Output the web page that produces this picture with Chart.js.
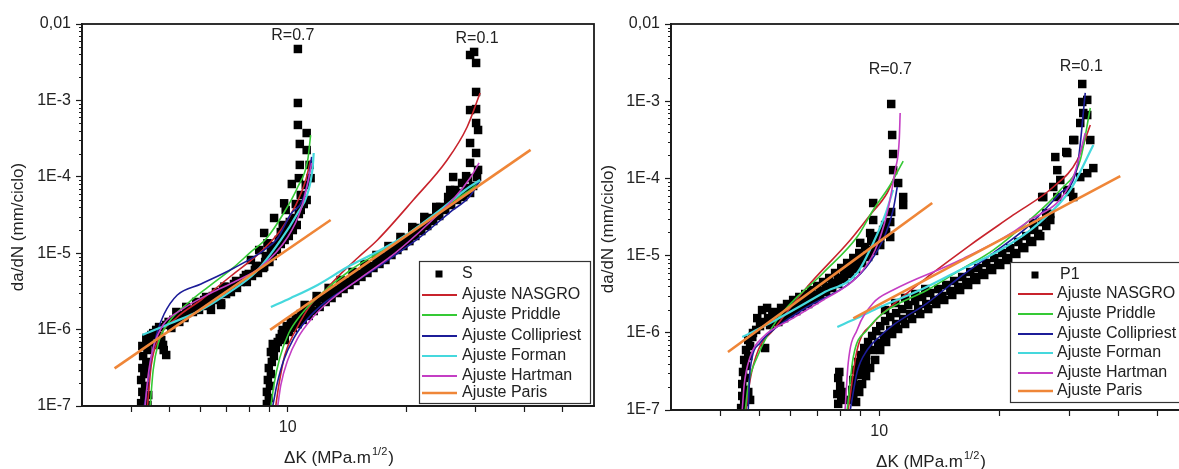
<!DOCTYPE html>
<html>
<head>
<meta charset="utf-8">
<title>da/dN x ΔK</title>
<script src="https://cdn.jsdelivr.net/npm/chart.js@4.4.1/dist/chart.umd.min.js"></script>
<style>
  html, body { margin: 0; padding: 0; background: #fff; }
  #wrap { position: relative; width: 1179px; height: 469px; overflow: hidden; background: #fff; }
  #c1 { position: absolute; left: 0; top: 0; }
  #c2 { position: absolute; left: 590px; top: 0; }
</style>
</head>
<body>
<div id="wrap">
  <canvas id="c1" width="600" height="469"></canvas>
  <canvas id="c2" width="610" height="469"></canvas>
</div>
<script>
// axis ticks / labels
const xTickVals = [4, 5, 6, 7, 8, 9, 10, 20, 30, 40, 50];
const yMajor = [1e-7, 1e-6, 1e-5, 1e-4, 1e-3, 1e-2];
const yLabels = ['1E-7', '1E-6', '1E-5', '1E-4', '1E-3', '0,01'];

// ---- panel S : measured points [dK, da/dN]
const sR07 = [[4.24,1.09e-7],[4.32,1.27e-7],[4.27,1.53e-7],[4.34,1.83e-7],[4.24,2.19e-7],[4.32,2.62e-7],[4.27,3.14e-7],[4.37,3.77e-7],[4.29,4.51e-7],[4.40,5.41e-7],[4.27,6.1e-7],[4.45,6.88e-7],[4.37,7.76e-7],[4.50,8.5e-7],[4.42,1.39e-7],[4.40,1.03e-7],[4.34,2.96e-7],[4.55,9.0e-7],[4.63,9.9e-7],[4.71,1.08e-6],[4.77,7.3e-7],[4.84,5.4e-7],[4.91,4.65e-7],[4.82,6.3e-7],[4.71,8.2e-7],[4.63,6.3e-7],[4.91,1.15e-6],[4.98,1.26e-6],[5.06,1.05e-6],[5.12,1.34e-6],[5.21,1.42e-6],[5.30,1.26e-6],[5.36,1.55e-6],[5.46,1.42e-6],[5.55,1.65e-6],[5.62,1.81e-6],[5.74,1.7e-6],[5.85,1.92e-6],[5.95,1.81e-6],[6.02,2.1e-6],[6.13,2.44e-6],[6.24,2.04e-6],[6.38,2.3e-6],[6.45,2.75e-6],[6.57,2.44e-6],[6.69,2.92e-6],[6.77,2.1e-6],[6.85,3.3e-6],[6.97,2.92e-6],[7.09,3.51e-6],[7.17,3.1e-6],[7.30,3.95e-6],[7.43,3.51e-6],[7.60,4.2e-6],[7.73,4.73e-6],[7.87,4.2e-6],[7.96,5.35e-6],[8.11,5.03e-6],[8.25,6.03e-6],[8.40,5.51e-6],[8.50,6.8e-6],[8.66,6.4e-6],[8.76,7.67e-6],[8.87,8.65e-6],[8.98,7.67e-6],[9.06,1.04e-5],[9.16,9.2e-6],[9.27,1.24e-5],[9.38,1.1e-5],[9.49,1.49e-5],[9.60,1.32e-5],[9.71,1.68e-5],[9.82,1.49e-5],[9.94,1.89e-5],[10.06,1.68e-5],[10.18,2.14e-5],[10.12,2.56e-5],[10.30,2.01e-5],[10.36,2.89e-5],[10.54,2.34e-5],[10.67,3.26e-5],[10.79,3.68e-5],[10.98,4.4e-5],[10.48,4.4e-5],[9.88,3.68e-5],[9.71,2.34e-5],[10.79,5.78e-5],[11.17,4.97e-5],[11.11,7.81e-5],[11.43,9.6e-5],[10.67,9.6e-5],[11.36,1.43e-4],[10.73,1.43e-4],[11.17,2.24e-4],[10.73,2.69e-4],[11.17,3.74e-4],[10.61,4.77e-4],[10.61,9.25e-4],[10.61,4.71e-3],[8.71,1.84e-5],[9.23,2.89e-5],[8.88,1.35e-5],[8.46,1.1e-5],[8.06,8.15e-6],[8.71,6.66e-6],[6.90,3.65e-6],[6.38,1.81e-6],[5.79,1.81e-6],[5.46,1.48e-6],[6.77,2.21e-6],[10.24,8.05e-5],[9.79,4.5e-5],
  [5.21,1.7e-6],[5.52,1.98e-6],[5.85,2.3e-6],[6.20,2.67e-6],[6.57,3.1e-6],[6.97,3.61e-6],[7.39,4.33e-6],[7.83,5.18e-6],[8.30,6.8e-6],[8.80,9.2e-6],[9.16,1.2e-5],[9.60,1.89e-5],[10.06,2.27e-5]];
const sR01 = [[8.85,1.06e-7],[8.95,1.27e-7],[8.85,1.53e-7],[9.01,1.83e-7],[8.90,2.19e-7],[9.06,2.62e-7],[8.95,3.14e-7],[9.11,3.77e-7],[9.22,4.51e-7],[9.06,5.09e-7],[9.32,5.74e-7],[9.16,6.48e-7],[9.43,6.88e-7],[9.54,7.76e-7],[9.66,8.75e-7],[9.83,7.31e-7],[9.71,9.88e-7],[9.94,1.11e-6],[10.06,9.3e-7],[10.18,1.26e-6],[10.30,1.05e-6],[10.48,1.42e-6],[10.60,1.18e-6],[10.79,1.6e-6],[10.91,1.34e-6],[11.11,1.81e-6],[11.30,1.51e-6],[11.43,2.04e-6],[11.64,1.75e-6],[11.84,2.3e-6],[12.05,1.98e-6],[12.26,2.59e-6],[12.48,2.3e-6],[12.70,2.92e-6],[12.92,2.59e-6],[13.15,3.3e-6],[13.38,3.01e-6],[13.62,3.72e-6],[13.86,3.4e-6],[14.10,4.2e-6],[14.35,3.84e-6],[14.61,4.73e-6],[14.86,4.33e-6],[15.12,5.35e-6],[15.39,4.89e-6],[15.66,6.03e-6],[15.94,5.51e-6],[16.23,6.8e-6],[16.51,6.4e-6],[16.80,7.67e-6],[17.10,7.23e-6],[17.40,8.92e-6],[17.71,8.15e-6],[18.02,1.04e-5],[18.34,9.47e-6],[18.66,1.17e-5],[18.99,1.1e-5],[19.33,1.36e-5],[19.67,1.24e-5],[20.01,1.58e-5],[20.37,1.44e-5],[20.72,1.84e-5],[21.09,1.68e-5],[21.46,2.14e-5],[21.84,1.95e-5],[22.23,2.48e-5],[22.62,2.27e-5],[23.01,2.89e-5],[23.42,2.64e-5],[23.84,3.36e-5],[24.26,3.07e-5],[24.69,3.9e-5],[25.12,3.68e-5],[25.56,4.54e-5],[26.01,4.27e-5],[26.47,5.28e-5],[26.94,4.97e-5],[27.42,6.14e-5],[27.90,5.78e-5],[28.39,7.14e-5],[26.63,6.72e-5],[27.73,8.3e-5],[28.72,9.64e-5],[29.58,7.58e-5],[28.39,1.02e-4],[29.06,3.93e-3],[29.75,4.31e-3],[30.10,3.09e-3],[30.10,1.29e-3],[29.06,7.48e-4],[30.10,7.7e-4],[30.45,4.1e-4],[30.10,5.06e-4],[29.06,2.77e-4],[30.10,2.05e-4],[29.06,1.52e-4],[30.45,1.23e-4],[27.90,5.44e-5],[26.32,9.93e-5],[25.86,6.72e-5],[24.40,4.03e-5],[29.06,6.14e-5],[30.27,9.93e-5],
  [11.04,2.1e-6],[11.84,2.75e-6],[12.70,3.51e-6],[13.62,4.46e-6],[14.61,5.68e-6],[15.66,7.23e-6],[16.80,9.47e-6],[18.02,1.24e-5],[19.33,1.63e-5],[20.72,2.2e-5],[22.23,2.98e-5],[23.84,4.03e-5],[25.56,5.44e-5]];

// ---- panel S : fitted curves
const sNasgro07 = [[4.40,1e-7],[4.50,3.44e-7],[4.71,7.76e-7],[5.21,1.42e-6],[6.02,2.44e-6],[7.17,5.03e-6],[8.54,1.04e-5],[9.60,2.01e-5],[10.48,4.27e-5],[11.11,9.08e-5],[11.43,1.66e-4]];
const sPriddle07 = [[4.47,1e-7],[4.55,2.96e-7],[4.69,6.68e-7],[4.97,1.22e-6],[5.58,2.23e-6],[6.27,3.61e-6],[7.30,6.59e-6],[8.06,1.04e-5],[8.80,1.53e-5],[9.77,3.36e-5],[10.60,7.35e-5],[11.24,1.66e-4],[11.43,3.52e-4]];
const sColli07 = [[4.32,1e-7],[4.40,1.88e-7],[4.50,4.38e-7],[4.66,9.3e-7],[4.85,1.6e-6],[5.24,2.84e-6],[6.02,3.95e-6],[7.30,6.4e-6],[8.71,1.1e-5],[9.43,1.58e-5],[10.18,3.26e-5],[10.91,4.97e-5],[11.30,9.93e-5],[11.50,1.82e-4]];
const sForman07 = [[4.27,8.5e-7],[5.06,1.22e-6],[6.02,1.81e-6],[7.05,3.01e-6],[8.30,5.68e-6],[9.60,1.49e-5],[10.60,3.36e-5],[11.24,6.14e-5],[11.57,1.34e-4],[11.64,2.05e-4]];
const sHartman07 = [[4.34,1e-7],[4.42,2.55e-7],[4.55,5.74e-7],[4.82,1.15e-6],[5.36,1.81e-6],[6.38,3.01e-6],[7.39,4.33e-6],[8.54,6.59e-6],[10.0,1.63e-5],[10.79,3.68e-5],[11.24,8.3e-5],[11.50,1.52e-4]];
const sParis07 = [[3.63,3.11e-7],[12.85,2.72e-5]];
const sNasgro01 = [[9.32,1e-7],[9.49,1.88e-7],[9.83,4.65e-7],[10.48,9.88e-7],[11.43,2.1e-6],[12.48,3.3e-6],[13.38,4.89e-6],[15.04,8.65e-6],[16.90,1.49e-5],[20.84,4.97e-5],[25.41,1.66e-4],[28.56,4.49e-4],[30.81,1.25e-3]];
const sPriddle01 = [[9.06,1e-7],[9.22,1.88e-7],[9.54,4.25e-7],[10.06,9.02e-7],[10.79,1.55e-6],[11.91,2.67e-6],[14.44,6.03e-6],[17.50,1.1e-5],[21.72,2.34e-5],[25.86,4.54e-5],[29.06,6.72e-5],[30.81,8.55e-5]];
const sColli01 = [[9.16,1e-7],[9.38,1.88e-7],[9.77,4.0e-7],[10.36,7.76e-7],[11.17,1.34e-6],[12.48,2.3e-6],[14.44,3.84e-6],[17.71,7.67e-6],[21.72,1.63e-5],[25.86,3.46e-5],[29.06,5.61e-5],[30.81,9.08e-5]];
const sForman01 = [[9.06,1.98e-6],[10.18,2.59e-6],[11.91,3.84e-6],[14.18,6.59e-6],[17.20,1.1e-5],[20.49,1.89e-5],[24.40,3.68e-5],[28.23,6.72e-5],[30.81,9.08e-5]];
const sHartman01 = [[9.43,1e-7],[9.60,1.88e-7],[10.0,4.0e-7],[10.60,7.76e-7],[11.43,1.34e-6],[12.85,2.44e-6],[15.30,4.73e-6],[18.77,1.01e-5],[23.01,2.56e-5],[26.63,5.44e-5],[29.06,9.64e-5],[30.63,1.52e-4]];
const sParis01 = [[9.02,9.9e-7],[41.4,2.25e-4]];

// ---- panel P1 : measured points
const pR07 = [[4.50,1.06e-7],[4.58,1.27e-7],[4.53,1.52e-7],[4.61,1.82e-7],[4.53,2.17e-7],[4.61,2.6e-7],[4.55,3.11e-7],[4.63,3.72e-7],[4.58,4.45e-7],[4.69,5.0e-7],[4.63,5.98e-7],[4.74,6.74e-7],[4.69,8.07e-7],[4.80,8.83e-7],[4.74,1.35e-7],[4.69,1.71e-7],[4.82,9.94e-7],[4.91,1.09e-6],[5.02,1.22e-6],[5.14,1.38e-6],[5.26,1.55e-6],[5.39,1.75e-6],[4.94,1.55e-6],[5.08,1.97e-6],[5.23,2.1e-6],[5.17,6.35e-7],[5.32,1.26e-6],[5.48,1.86e-6],[5.58,1.65e-6],[5.67,2.1e-6],[5.77,1.86e-6],[5.87,2.36e-6],[5.97,2.1e-6],[6.08,2.66e-6],[6.19,2.29e-6],[6.30,2.91e-6],[6.40,2.58e-6],[6.52,3.18e-6],[6.63,2.83e-6],[6.75,3.58e-6],[6.87,3.09e-6],[6.99,4.04e-6],[7.11,3.48e-6],[7.23,4.55e-6],[7.36,3.92e-6],[7.49,5.13e-6],[7.62,4.42e-6],[7.75,5.95e-6],[7.89,5.13e-6],[8.03,6.91e-6],[8.17,6.13e-6],[8.31,8.02e-6],[8.46,7.12e-6],[8.61,9.31e-6],[8.75,8.26e-6],[8.91,1.08e-5],[9.06,9.89e-6],[9.22,1.29e-5],[9.38,1.18e-5],[9.55,1.55e-5],[9.71,1.41e-5],[9.88,1.79e-5],[10.06,1.69e-5],[10.23,2.15e-5],[10.41,2.02e-5],[9.49,1.96e-5],[9.66,2.89e-5],[9.66,4.8e-5],[10.66,2.72e-5],[10.66,1.74e-5],[10.72,3.67e-5],[11.49,4.52e-5],[11.49,5.74e-5],[11.16,8.71e-5],[10.84,1.28e-4],[10.84,2.07e-4],[10.78,3.65e-4],[10.72,9.2e-4],[10.35,2.49e-5],[8.96,1.46e-5],
  [5.58,1.38e-6],[5.77,1.55e-6],[5.97,1.75e-6],[6.19,1.91e-6],[6.40,2.16e-6],[6.63,2.36e-6],[6.87,2.66e-6],[7.11,3.0e-6],[7.36,3.38e-6],[7.62,3.8e-6],[7.89,4.29e-6],[8.17,4.98e-6],[8.46,5.78e-6],[8.75,6.7e-6],[9.06,8.02e-6],[9.38,9.6e-6],[9.71,1.15e-5],[10.06,1.37e-5]];
const pR01 = [[7.89,2.6e-7],[7.98,2.05e-7],[7.85,1.61e-7],[8.03,1.35e-7],[7.89,1.2e-7],[8.07,1.71e-7],[7.94,3.11e-7],
  [8.46,1.35e-7],[8.56,1.82e-7],[8.61,2.45e-7],[8.71,3.3e-7],[8.86,4.19e-7],[9.01,5.15e-7],[9.17,6.35e-7],[9.38,7.6e-7],[9.60,9.1e-7],[9.83,1.05e-6],[10.06,1.22e-6],[10.35,1.42e-6],[10.66,1.6e-6],[11.03,1.8e-6],[11.42,2.03e-6],[11.83,2.29e-6],[12.31,2.58e-6],[12.82,2.91e-6],[13.43,3.28e-6],[14.07,3.69e-6],[14.74,4.16e-6],[15.43,4.69e-6],[16.16,5.28e-6],[16.93,6.13e-6],[17.73,6.91e-6],[18.57,8.02e-6],[19.45,9.31e-6],[20.37,1.08e-5],[21.34,1.25e-5],[22.36,1.5e-5],[23.41,1.79e-5],[24.51,2.15e-5],[25.67,2.72e-5],[26.90,3.46e-5],
  [8.75,1.27e-7],[8.91,1.71e-7],[9.06,2.17e-7],[9.27,2.75e-7],[9.49,3.5e-7],[9.77,4.45e-7],[10.06,5.98e-7],[10.41,7.6e-7],[10.78,9.64e-7],[11.16,1.12e-6],[11.62,1.3e-6],[12.10,1.51e-6],[12.68,1.75e-6],[13.28,2.03e-6],[13.91,2.36e-6],[14.57,2.66e-6],[15.26,3.09e-6],[15.97,3.58e-6],[16.73,4.16e-6],[17.53,4.83e-6],[18.36,5.61e-6],[19.22,6.5e-6],[20.14,7.55e-6],[21.09,8.77e-6],[22.10,1.05e-5],[23.14,1.25e-5],[24.23,1.5e-5],[25.38,1.79e-5],
  [9.27,5.15e-7],[9.60,5.98e-7],[9.94,7.38e-7],[10.29,9.1e-7],[10.66,1.09e-6],[11.03,1.3e-6],[11.49,1.51e-6],[11.96,1.75e-6],[12.53,2.03e-6],[13.13,2.36e-6],[13.75,2.66e-6],[14.40,3.0e-6],[15.09,3.48e-6],[15.80,3.92e-6],[16.55,4.55e-6],[17.33,5.28e-6],[18.15,5.95e-6],[19.00,6.91e-6],[19.91,8.02e-6],[20.85,9.31e-6],[21.84,1.08e-5],[22.87,1.29e-5],[23.95,1.55e-5],[25.09,1.91e-5],[26.28,2.42e-5],
  [8.61,1.56e-7],[8.75,2.11e-7],[8.86,2.84e-7],[9.06,3.5e-7],[9.27,4.19e-7],
  [10.35,1.97e-6],[10.97,2.43e-6],[11.62,2.83e-6],[12.31,3.18e-6],[13.05,3.69e-6],
  [25.67,5.74e-5],[28.01,5.74e-5],[29.68,7.08e-5],[30.72,5.74e-5],[31.99,1.04e-4],[28.50,9.53e-5],[27.69,1.89e-4],[29.68,2.13e-4],[30.72,3.14e-4],[31.99,5.22e-4],[32.55,7.03e-4],[32.36,9.77e-4],[32.36,1.67e-3],[34.50,1.36e-4],[33.31,1.17e-4],[33.90,3.14e-4],[26.28,3.56e-5],[26.90,2.89e-5],[24.37,2.64e-5],[33.31,6.62e-4],[30.90,3.14e-4],[29.50,2.2e-4],[27.37,7.74e-5],[30.20,6.67e-5],[25.83,5.74e-5],[28.01,1.28e-4],[33.31,1.04e-3]];

// ---- panel P1 : fitted curves
const pNasgro07 = [[4.63,1e-7],[4.74,2.45e-7],[4.97,5.98e-7],[5.42,1.09e-6],[6.59,3.92e-6],[8.46,1.59e-5],[9.49,3.36e-5],[10.47,6.47e-5],[11.10,1.28e-4]];
const pPriddle07 = [[4.61,1e-7],[4.69,2.11e-7],[4.94,4.86e-7],[5.54,1.47e-6],[7.23,5.95e-6],[8.80,1.74e-5],[9.66,3.9e-5],[10.66,8.22e-5],[11.49,1.68e-4]];
const pColli07 = [[4.69,1e-7],[4.71,1.82e-7],[4.74,3.3e-7],[5.02,7.38e-7],[5.54,1.19e-6],[6.59,2.16e-6],[8.46,4.42e-6],[9.49,8.26e-6],[10.35,1.85e-5],[10.84,3.9e-5],[11.10,7.74e-5]];
const pForman07 = [[4.53,8.83e-7],[5.32,1.34e-6],[7.23,3.28e-6],[8.80,5.95e-6],[9.66,1.46e-5],[10.35,3.36e-5],[10.84,7.08e-5]];
const pHartman07 = [[4.53,1e-7],[4.58,2.11e-7],[4.74,4.86e-7],[5.11,8.83e-7],[5.97,1.47e-6],[7.23,2.66e-6],[8.80,5.28e-6],[9.77,1.18e-5],[10.47,3.56e-5],[10.97,1.28e-4],[11.23,3.14e-4],[11.29,7.03e-4]];
const pParis07 = [[4.17,5.64e-7],[13.59,4.8e-5]];
const pNasgro01 = [[8.36,1e-7],[8.80,5.98e-7],[9.66,1.34e-6],[10.66,2.16e-6],[13.43,5.61e-6],[16.93,1.37e-5],[21.72,3.36e-5],[27.37,7.74e-5],[31.44,1.73e-4],[33.90,4.92e-4]];
const pPriddle01 = [[8.31,1e-7],[8.61,4.86e-7],[9.33,1.09e-6],[10.23,1.8e-6],[13.20,3.58e-6],[15.97,6.5e-6],[19.34,1.18e-5],[23.54,2.72e-5],[28.50,7.08e-5],[31.99,1.73e-4],[33.90,8.17e-4]];
const pColli01 = [[8.46,1e-7],[8.80,3.11e-7],[9.33,5.98e-7],[10.06,9.1e-7],[10.84,1.26e-6],[13.20,2.43e-6],[15.97,5.28e-6],[19.34,1.08e-5],[23.54,2.34e-5],[28.50,6.47e-5],[31.44,1.41e-4],[32.93,1.28e-3]];
const pForman01 = [[7.85,1.19e-6],[8.80,1.55e-6],[10.06,2.16e-6],[12.68,3.58e-6],[15.97,6.5e-6],[20.14,1.18e-5],[25.38,2.72e-5],[30.20,7.08e-5],[34.50,2.71e-4]];
const pHartman01 = [[8.21,1e-7],[8.36,4.06e-7],[8.80,1.09e-6],[9.66,2.43e-6],[10.84,3.58e-6],[15.97,8.77e-6],[23.54,2.72e-5],[30.72,1.04e-4],[32.93,3.87e-4]];
const pParis01 = [[8.61,1.54e-6],[40.32,1.07e-4]];

// R labels (position in dK, da/dN)
const sRNotes = [{text: 'R=0.7', k: 10.3, v: 7.0e-3}, {text: 'R=0.1', k: 30.27, v: 6.5e-3}];
const pRNotes = [{text: 'R=0.7', k: 10.66, v: 2.6e-3}, {text: 'R=0.1', k: 32.17, v: 2.8e-3}];

const FONT = '"Liberation Sans", Arial, sans-serif';
const INK = '#222';

Chart.defaults.animation = false;
Chart.defaults.font.family = FONT;

const toXY = arr => arr.map(([x, y]) => ({x, y}));

function dotSet(label, pts) {
  return {label, data: toXY(pts), showLine: false, pointStyle: 'rect', pointRadius: 6,
    pointHoverRadius: 6, backgroundColor: '#000', borderColor: '#000', borderWidth: 0, order: 10};
}
function fitSet(label, color, width, pts, order) {
  return {label, data: toXY(pts), showLine: true, borderColor: color, backgroundColor: color,
    borderWidth: width, pointRadius: 0, pointHoverRadius: 0, cubicInterpolationMode: 'monotone',
    fill: false, order};
}

const models = [
  {label: 'Ajuste NASGRO', color: '#c8232c', width: 1.6, order: 6},
  {label: 'Ajuste Priddle', color: '#35c935', width: 1.6, order: 5},
  {label: 'Ajuste Collipriest', color: '#1c1c98', width: 1.6, order: 4},
  {label: 'Ajuste Forman', color: '#45d8dd', width: 2.2, order: 3},
  {label: 'Ajuste Hartman', color: '#c43ec4', width: 1.6, order: 2},
  {label: 'Ajuste Paris', color: '#ef8638', width: 2.6, order: 1}
];

function panelSets(name, dots, fits) {
  const sets = dots.map(d => dotSet(name, d));
  models.forEach((m, i) => fits[i].forEach(seg => sets.push(fitSet(m.label, m.color, m.width, seg, m.order))));
  return sets;
}

// plot frame
const frame = {
  id: 'frame',
  afterDatasetsDraw(chart) {
    const {ctx, chartArea: a} = chart;
    ctx.save();
    ctx.strokeStyle = '#1a1a1a';
    ctx.lineWidth = 1.8;
    ctx.strokeRect(a.left, a.top, a.right - a.left, a.bottom - a.top);
    ctx.restore();
  }
};

// short minor ticks on the log y axis
const yMinor = {
  id: 'yMinor',
  afterDraw(chart) {
    const {ctx, chartArea: a, scales: {y}} = chart;
    ctx.save();
    ctx.strokeStyle = '#1a1a1a';
    ctx.lineWidth = 1;
    for (let i = 0; i < yMajor.length - 1; i++) {
      for (let m = 2; m < 10; m++) {
        const py = Math.round(y.getPixelForValue(yMajor[i] * m)) + 0.5;
        ctx.beginPath();
        ctx.moveTo(a.left - 3, py);
        ctx.lineTo(a.left, py);
        ctx.stroke();
      }
    }
    ctx.restore();
  }
};

// axis titles (x title has a superscript)
const titles = {
  id: 'titles',
  afterDraw(chart) {
    const {ctx, chartArea: a} = chart;
    ctx.save();
    ctx.fillStyle = INK;
    ctx.font = '17px ' + FONT;
    ctx.textAlign = 'center';
    ctx.textBaseline = 'middle';
    ctx.translate(18, (a.top + a.bottom) / 2 + 12);
    ctx.rotate(-Math.PI / 2);
    ctx.fillText('da/dN (mm/ciclo)', 0, 0);
    ctx.restore();

    ctx.save();
    ctx.fillStyle = INK;
    ctx.textBaseline = 'alphabetic';
    ctx.textAlign = 'left';
    const main = '\u0394K (MPa.m', sup = '1/2', end = ')';
    ctx.font = '17px ' + FONT;
    const w1 = ctx.measureText(main).width, w3 = ctx.measureText(end).width;
    ctx.font = '11px ' + FONT;
    const w2 = ctx.measureText(sup).width;
    const x = (a.left + a.right) / 2 - (w1 + w2 + w3) / 2;
    const base = a.bottom + 57;
    ctx.font = '17px ' + FONT;
    ctx.fillText(main, x, base);
    ctx.font = '11px ' + FONT;
    ctx.fillText(sup, x + w1 + 1, base - 8);
    ctx.font = '17px ' + FONT;
    ctx.fillText(end, x + w1 + w2 + 2, base);
    ctx.restore();
  }
};

// R = ... notes
const notes = {
  id: 'notes',
  afterDraw(chart, args, o) {
    const {ctx, scales: {x, y}} = chart;
    ctx.save();
    ctx.fillStyle = INK;
    ctx.font = '16px ' + FONT;
    ctx.textAlign = 'center';
    ctx.textBaseline = 'middle';
    o.items.forEach(t => ctx.fillText(t.text, x.getPixelForValue(t.k), y.getPixelForValue(t.v)));
    ctx.restore();
  }
};

// boxed legend inside the plot
const boxLegend = {
  id: 'boxLegend',
  afterDraw(chart, args, o) {
    const ctx = chart.ctx;
    const seen = new Set();
    const items = chart.data.datasets.filter(d => !seen.has(d.label) && seen.add(d.label));
    ctx.save();
    ctx.fillStyle = '#fff';
    ctx.fillRect(o.x, o.y, o.w, o.h);
    ctx.strokeStyle = '#333';
    ctx.lineWidth = 1.2;
    ctx.strokeRect(o.x + 0.5, o.y + 0.5, o.w, o.h);
    ctx.font = '16px ' + FONT;
    ctx.textBaseline = 'middle';
    items.forEach((d, i) => {
      const yy = o.y + o.rows[i];
      if (d.showLine) {
        ctx.strokeStyle = d.borderColor;
        ctx.lineWidth = Math.max(2, d.borderWidth);
        ctx.beginPath();
        ctx.moveTo(o.x + o.l0, yy);
        ctx.lineTo(o.x + o.l1, yy);
        ctx.stroke();
      } else {
        ctx.fillStyle = '#000';
        ctx.fillRect(o.x + o.mx - 3.5, yy - 3.5, 7, 7);
      }
      ctx.fillStyle = INK;
      ctx.fillText(d.label, o.x + (d.showLine ? o.tx : o.tm), yy);
    });
    ctx.restore();
  }
};

function options(pad, xHeight, legend, noteItems) {
  return {
    responsive: false,
    animation: false,
    layout: {padding: pad},
    plugins: {
      legend: {display: false},
      tooltip: {enabled: false},
      boxLegend: legend,
      notes: {items: noteItems}
    },
    scales: {
      x: {
        type: 'logarithmic', min: 3, max: 60,
        border: {display: true, color: '#1a1a1a', width: 1.8},
        grid: {drawOnChartArea: false, drawTicks: true, tickLength: 6, tickColor: '#1a1a1a', tickWidth: 1.2},
        ticks: {autoSkip: false, maxRotation: 0, padding: 6, color: INK, font: {size: 16},
          callback: v => (v === 10 ? '10' : '')},
        afterBuildTicks: s => { s.ticks = xTickVals.map(v => ({value: v})); },
        afterFit: s => { s.height = xHeight; }
      },
      y: {
        type: 'logarithmic', min: 1e-7, max: 1e-2,
        border: {display: true, color: '#1a1a1a', width: 1.8},
        grid: {drawOnChartArea: false, drawTicks: true, tickLength: 6, tickColor: '#1a1a1a', tickWidth: 1.2},
        ticks: {autoSkip: false, padding: 5, color: INK, font: {size: 16},
          callback: (v, i) => yLabels[i]},
        afterBuildTicks: s => { s.ticks = yMajor.map(v => ({value: v})); },
        afterFit: s => { s.width = pad.yw; }
      }
    }
  };
}

new Chart(document.getElementById('c1'), {
  type: 'scatter',
  data: {datasets: panelSets('S', [sR07, sR01], [
    [sNasgro07, sNasgro01], [sPriddle07, sPriddle01], [sColli07, sColli01],
    [sForman07, sForman01], [sHartman07, sHartman01], [sParis07, sParis01]])},
  options: options({left: 0, right: 5, top: 24, bottom: 0, yw: 82}, 63,
    {x: 419, y: 261, w: 171, h: 142, rows: [13, 34, 54, 75, 95, 115, 132], l0: 3, l1: 38, tx: 43, mx: 20, tm: 43},
    sRNotes),
  plugins: [frame, yMinor, titles, notes, boxLegend]
});

new Chart(document.getElementById('c2'), {
  type: 'scatter',
  data: {datasets: panelSets('P1', [pR07, pR01], [
    [pNasgro07, pNasgro01], [pPriddle07, pPriddle01], [pColli07, pColli01],
    [pForman07, pForman01], [pHartman07, pHartman01], [pParis07, pParis01]])},
  options: options({left: 0, right: 11, top: 24, bottom: 0, yw: 81}, 59,
    {x: 420, y: 262, w: 200, h: 140, rows: [13, 32, 52, 72, 91, 111, 129], l0: 8, l1: 43, tx: 47, mx: 25, tm: 50},
    pRNotes),
  plugins: [frame, yMinor, titles, notes, boxLegend]
});
</script>
</body>
</html>
